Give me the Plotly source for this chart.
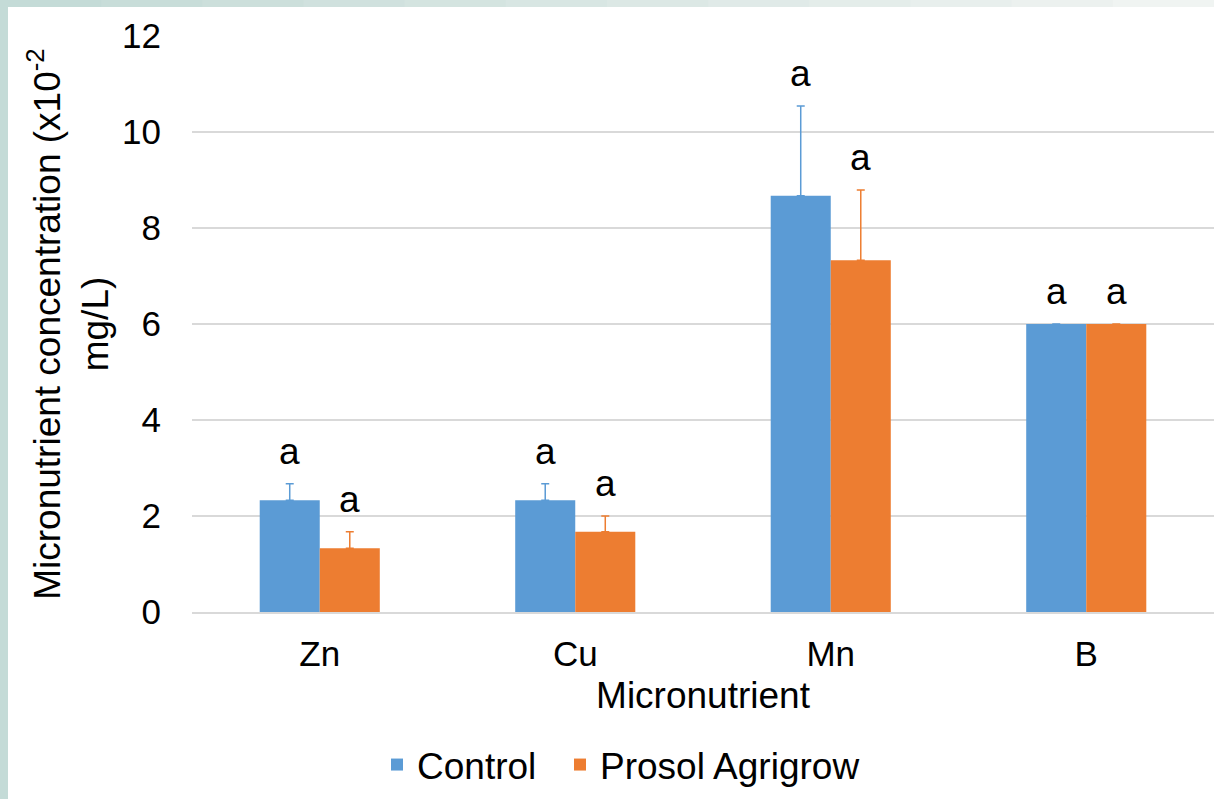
import plotly.graph_objects as go

categories = ["Zn", "Cu", "Mn", "B"]
control = [2.33, 2.33, 8.67, 6.0]
control_err = [0.34, 0.34, 1.87, 0.0]
prosol = [1.33, 1.67, 7.33, 6.0]
prosol_err = [0.34, 0.33, 1.46, 0.0]
control_letters = ["a", "a", "a", "a"]
prosol_letters = ["a", "a", "a", "a"]

BLUE = "#5B9BD5"
ORANGE = "#ED7D31"
FONT = "Liberation Sans, Arial, sans-serif"
FS = 35
FT = 37

fig = go.Figure()
fig.add_trace(go.Bar(
    x=categories, y=control, name="Control", marker=dict(color=BLUE, line=dict(width=0)),
    legend="legend",
    error_y=dict(type="data", array=control_err, symmetric=False, arrayminus=[0]*4,
                 color=BLUE, thickness=1.5, width=4, visible=True),
))
fig.add_trace(go.Bar(
    x=categories, y=prosol, name="Prosol Agrigrow", marker=dict(color=ORANGE, line=dict(width=0)),
    legend="legend2",
    error_y=dict(type="data", array=prosol_err, symmetric=False, arrayminus=[0]*4,
                 color=ORANGE, thickness=1.5, width=4, visible=True),
))

# significance letters above error bars
for i, c in enumerate(categories):
    fig.add_annotation(x=c, y=control[i] + control_err[i], text=control_letters[i],
                       xref="x", yref="y", showarrow=False, yanchor="bottom",
                       xshift=-30, yshift=10, font=dict(size=FT, color="black", family=FONT))
    fig.add_annotation(x=c, y=prosol[i] + prosol_err[i], text=prosol_letters[i],
                       xref="x", yref="y", showarrow=False, yanchor="bottom",
                       xshift=30, yshift=10, font=dict(size=FT, color="black", family=FONT))

# light frame (page border of the original screenshot)
L, T, W, H = 192, 36, 1022, 576
def px(xp):
    return (xp - L) / W
def py(yp):
    return 1 - (yp - T) / H
n = 12
for k in range(n):
    t = k / (n - 1)
    r = int(0xC4 + (0xF0 - 0xC4) * t)
    g = int(0xDB + (0xF4 - 0xDB) * t)
    b = int(0xD7 + (0xF2 - 0xD7) * t)
    fig.add_shape(type="rect", xref="paper", yref="paper",
                  x0=px(1214 * k / n), x1=px(1214 * (k + 1) / n + 1), y0=py(7), y1=py(0),
                  fillcolor=f"rgb({r},{g},{b})", line=dict(width=0), layer="below")
fig.add_shape(type="rect", xref="paper", yref="paper", x0=px(0), x1=px(8), y0=py(799), y1=py(0),
              fillcolor="#C4DBD7", line=dict(width=0), layer="below")

leg_common = dict(orientation="h", xref="container", yref="container", xanchor="left",
                  y=1 - 734 / 799, yanchor="top", font=dict(size=37), itemwidth=30,
                  bgcolor="rgba(0,0,0,0)")
fig.update_layout(
    width=1214, height=799,
    margin=dict(l=L, r=0, t=T, b=799 - T - H, autoexpand=False),
    paper_bgcolor="white", plot_bgcolor="white",
    font=dict(family=FONT, size=FS, color="black"),
    barmode="group", bargap=0.53, bargroupgap=0,
    showlegend=True,
    legend=dict(x=377 / 1214, **leg_common),
    legend2=dict(x=560 / 1214, **leg_common),
)
fig.update_yaxes(range=[0, 12], dtick=2, showgrid=True, gridcolor="#D9D9D9", gridwidth=1.5,
                 zeroline=False, showline=False, ticks="", ticklabelstandoff=30,
                 tickfont=dict(size=FS),
                 title=dict(text="Micronutrient concentration (x10<sup>-2</sup><br>mg/L)",
                            font=dict(size=FT), standoff=2))
fig.update_xaxes(showgrid=False, showline=True, linecolor="#D9D9D9", linewidth=1.5,
                 ticks="", ticklabelstandoff=10, tickfont=dict(size=FS),
                 title=dict(text="Micronutrient", font=dict(size=FT), standoff=10))

fig.write_html("out.html", config={"displayModeBar": False},
               post_script="document.body.style.margin='0px';")
